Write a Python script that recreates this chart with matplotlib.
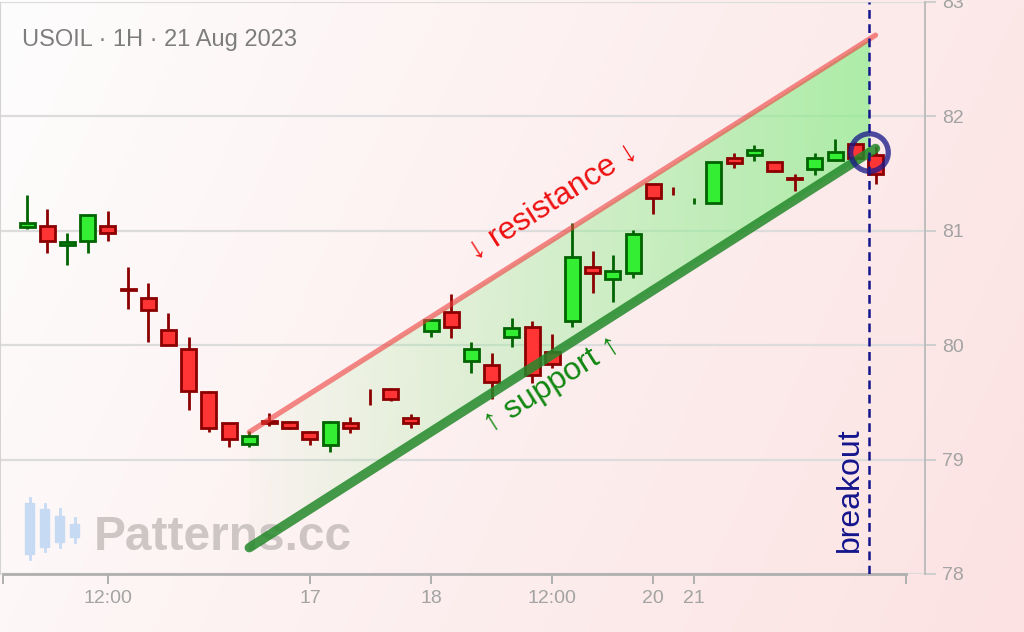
#!/usr/bin/env python3
"""USOIL 1H rising channel with breakout marker, drawn as a candlestick chart."""
import matplotlib
matplotlib.use("Agg")
import matplotlib.pyplot as plt
import numpy as np
from matplotlib.patches import Rectangle

plt.rcParams["font.family"] = ["Liberation Sans", "DejaVu Sans"]

# hourly candles
OPEN = [81.03, 81.04, 80.88, 80.91, 81.04, 80.49, 80.41, 80.13, 79.97, 79.59,
        79.32, 79.14, 79.34, 79.33, 79.24, 79.13, 79.32, 79.555, 79.62, 79.36,
        80.12, 80.29, 79.86, 79.83, 80.07, 80.16, 79.94, 80.21, 80.68, 80.58,
        80.63, 81.41, 81.342, 81.258, 81.24, 81.64, 81.66, 81.60, 81.46, 81.54,
        81.62, 81.76, 81.66]
HIGH = [81.31, 81.19, 80.98, 81.15, 81.17, 80.68, 80.54, 80.28, 80.07, 79.60,
        79.32, 79.25, 79.41, 79.34, 79.25, 79.34, 79.37, 79.62, 79.63, 79.40,
        80.22, 80.45, 80.03, 79.93, 80.24, 80.21, 80.10, 81.07, 80.82, 80.79,
        81.01, 81.41, 81.38, 81.29, 81.60, 81.68, 81.75, 81.60, 81.50, 81.68,
        81.80, 81.78, 81.74]
LOW = [81.02, 80.81, 80.70, 80.81, 80.91, 80.32, 80.03, 80.00, 79.43, 79.24,
       79.11, 79.11, 79.29, 79.27, 79.13, 79.07, 79.23, 79.48, 79.51, 79.28,
       80.07, 80.06, 79.76, 79.53, 79.98, 79.67, 79.80, 80.16, 80.46, 80.38,
       80.59, 81.15, 81.31, 81.23, 81.24, 81.55, 81.61, 81.51, 81.35, 81.49,
       81.61, 81.59, 81.41]
CLOSE = [81.07, 80.91, 80.90, 81.14, 80.98, 80.48, 80.31, 80.00, 79.60, 79.28,
         79.18, 79.21, 79.32, 79.28, 79.18, 79.33, 79.28, 79.552, 79.53, 79.32,
         80.22, 80.16, 79.97, 79.68, 80.15, 79.74, 79.84, 80.77, 80.63, 80.65,
         80.97, 81.29, 81.340, 81.261, 81.60, 81.59, 81.71, 81.52, 81.45, 81.64,
         81.69, 81.64, 81.50]

TICK_POS = [4, 14, 20, 26, 31, 33]
TICK_LABELS = ["12:00", "17", "18", "12:00", "20", "21"]
Y_TICKS = [78, 79, 80, 81, 82, 83]

# channel lines (bar index, price)
RES_X, RES_Y = [11, 42], [79.24, 82.71]
SUP_X, SUP_Y = [11, 42], [78.23, 81.72]
BREAKOUT_X = 41.7
BREAKOUT_Y = 81.69

# little logo candles next to the watermark (low, body low, body high, high)
LOGO = [(0.05, 0.12, 0.90, 0.97), (0.17, 0.23, 0.80, 0.88),
        (0.22, 0.30, 0.70, 0.80), (0.30, 0.38, 0.58, 0.66)]

RED_FACE, RED_EDGE = "#ff3535", "#8b0000"
GREEN_FACE, GREEN_EDGE = "#33ee33", "#006400"


def line_at(xs, ys, x):
    return ys[0] + (ys[1] - ys[0]) * (np.asarray(x) - xs[0]) / (xs[1] - xs[0])


def main():
    W, H = 1024, 632
    fig = plt.figure(figsize=(W / 100, H / 100), dpi=100)

    # pale pink background gradient
    bg = fig.add_axes([0, 0, 1, 1], zorder=-10)
    gx, gy = np.meshgrid(np.linspace(0, 1, 256), np.linspace(0, 1, 160))
    t = np.clip(0.78 * gx + 0.22 * gy, 0, 1)[..., None]
    c0 = np.array([254, 253, 253]) / 255
    c1 = np.array([252, 226, 226]) / 255
    bg.imshow(c0 + (c1 - c0) * t, aspect="auto", extent=[0, 1, 0, 1], origin="upper")
    bg.set_axis_off()

    # watermark logo candles
    lg = fig.add_axes([22 / W, 1 - 562 / H, 60 / W, 66 / H], zorder=-5)
    lg.set_axis_off()
    lg.set_xlim(-0.5, 3.5)
    lg.set_ylim(0, 1)
    for k, (lo, b0, b1, hi) in enumerate(LOGO):
        lg.plot([k, k], [lo, hi], color="#c6daf4", lw=2)
        lg.add_patch(Rectangle((k - 0.3, b0), 0.6, b1 - b0, color="#c6daf4"))

    ax = fig.add_axes([0, 58 / H, 925 / W, 572 / H])
    ax.set_facecolor("none")
    ax.set_xlim(-1.34, 44.45)
    ax.set_ylim(78, 83)

    # channel fill: green getting stronger to the right, masked to the channel
    nx, ny = 620, 580
    mx, my = np.meshgrid(np.linspace(RES_X[0], BREAKOUT_X, nx), np.linspace(78, 83, ny))
    inside = (my <= line_at(RES_X, RES_Y, mx)) & (my >= line_at(SUP_X, SUP_Y, mx))
    rgba = np.zeros((ny, nx, 4))
    rgba[..., 0], rgba[..., 1], rgba[..., 2] = 0.56, 0.93, 0.56
    rgba[..., 3] = np.where(inside, np.linspace(0.03, 0.72, nx)[None, :], 0)
    ax.imshow(rgba, aspect="auto", extent=[RES_X[0], BREAKOUT_X, 78, 83],
              origin="lower", zorder=1, interpolation="nearest")

    ax.grid(axis="y", color="#dcdcdc", lw=1.6, zorder=0)
    ax.set_axisbelow(True)

    ax.text(94 / W, 1 - 550 / H, "Patterns.cc", transform=fig.transFigure,
            color="#c9c0c0", fontsize=34.5, fontweight="bold", ha="left",
            va="baseline", alpha=0.9, zorder=2)

    # candles
    for i, (o, h, l, c) in enumerate(zip(OPEN, HIGH, LOW, CLOSE)):
        up = c > o
        edge = GREEN_EDGE if up else RED_EDGE
        face = GREEN_FACE if up else RED_FACE
        ax.plot([i, i], [l, h], color=edge, lw=2, zorder=3, solid_capstyle="butt")
        if abs(c - o) > 0.005:
            ax.add_patch(Rectangle((i - 0.37, min(o, c)), 0.74, abs(c - o),
                                   facecolor=face, edgecolor=edge, lw=2, zorder=4))

    ax.plot(RES_X, RES_Y, color="#f03c3c", alpha=0.6, lw=3.8,
            solid_capstyle="round", zorder=5)
    ax.plot(SUP_X, SUP_Y, color="#23892a", alpha=0.85, lw=6.8,
            solid_capstyle="round", zorder=5)

    ax.axvline(BREAKOUT_X, color="#14148c", lw=1.8, ls=(0, (3.5, 2.2)), zorder=6)
    ax.plot([BREAKOUT_X], [BREAKOUT_Y], marker="o", ms=27, mfc="none",
            mec="#1c1c8a", mew=3.8, alpha=0.78, zorder=7)

    ax.text(26.0, 81.26, "\u2193 resistance \u2193", color="#ee1111", fontsize=23,
            rotation=32.4, ha="center", va="center", zorder=6)
    ax.text(26.0, 79.66, "\u2191 support \u2191", color="#118811", fontsize=23,
            rotation=32.4, ha="center", va="center", zorder=6)
    ax.text(40.74, 78.19, "breakout", color="#14148c", fontsize=23,
            rotation=90, ha="center", va="bottom", zorder=6)

    # axes styling
    ax.spines["top"].set_visible(False)
    ax.spines["left"].set_color("#d4d4d4")
    ax.spines["right"].set_color("#bdbdbd")
    ax.spines["right"].set_linewidth(1.4)
    ax.spines["bottom"].set_color("#b0b0b0")
    ax.spines["bottom"].set_linewidth(2)
    ax.spines["bottom"].set_bounds(-1.2, 43.5)

    ax.set_xticks(TICK_POS)
    ax.set_xticklabels(TICK_LABELS)
    ax.set_xticks([-1.2, 43.5], minor=True)
    ax.tick_params(axis="x", which="both", length=7.5, width=1.4, color="#b0b0b0",
                   labelsize=14, labelcolor="#a3a3a3", pad=4)
    ax.yaxis.tick_right()
    ax.set_yticks(Y_TICKS)
    ax.tick_params(axis="y", length=8, width=1.4, color="#cfcfcf",
                   labelsize=14, labelcolor="#a3a3a3", pad=4)

    fig.text(22 / W, 1 - 40 / H, "USOIL \u00b7 1H \u00b7 21 Aug 2023", color="#7d7d7d",
             fontsize=17, ha="left", va="center")

    fig.savefig("out.png", dpi=100)


if __name__ == "__main__":
    main()
